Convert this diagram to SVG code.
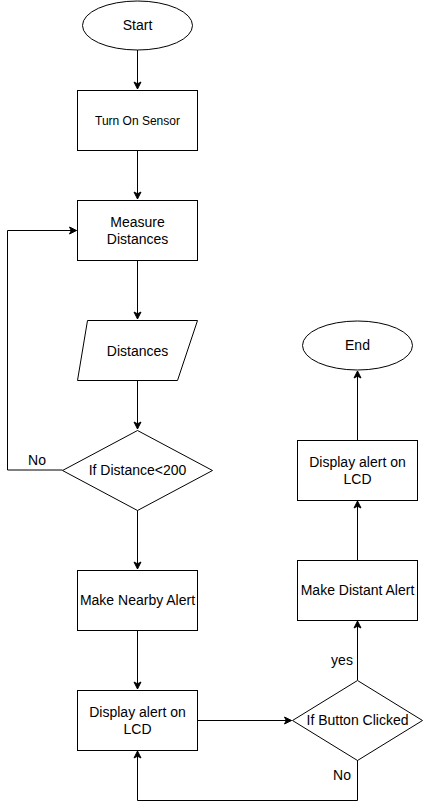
<svg xmlns="http://www.w3.org/2000/svg" width="423" height="809" viewBox="0 0 423 809">
<style>
.s{fill:#fff;stroke:#000;stroke-width:1}
.t{font-family:"Liberation Sans",Arial,sans-serif;font-size:14px;fill:#000;text-anchor:middle}
.sm{font-size:12px}
.c{fill:none;stroke:#000;stroke-width:1}
</style>
<defs>
<marker id="a" markerWidth="10" markerHeight="10" refX="8" refY="5" orient="auto" markerUnits="userSpaceOnUse">
<path d="M1,1.5 L8,5 L1,8.5 L2.8,5 Z" fill="#000" stroke="#000" stroke-width="1"/>
</marker>
</defs>
<rect width="423" height="809" fill="#fff"/>
<g id="connectors">
<path class="c" d="M137.5,50 V89" marker-end="url(#a)"/>
<path class="c" d="M137.5,150 V199" marker-end="url(#a)"/>
<path class="c" d="M137.5,260 V319" marker-end="url(#a)"/>
<path class="c" d="M137.5,380 V429" marker-end="url(#a)"/>
<path class="c" d="M62.5,470 H7.5 V230.5 H76.5" marker-end="url(#a)"/>
<path class="c" d="M137.5,510 V569" marker-end="url(#a)"/>
<path class="c" d="M137.5,630 V689" marker-end="url(#a)"/>
<path class="c" d="M197.5,720.5 H291.5" marker-end="url(#a)"/>
<path class="c" d="M357.5,760 V800.5 H137.5 V751" marker-end="url(#a)"/>
<path class="c" d="M357.5,680 V621" marker-end="url(#a)"/>
<path class="c" d="M357.5,560 V501" marker-end="url(#a)"/>
<path class="c" d="M357.5,440 V371" marker-end="url(#a)"/>
<text class="t" x="37" y="465">No</text>
<text class="t" x="342" y="665">yes</text>
<text class="t" x="342" y="780">No</text>
</g>
<g id="start">
<ellipse class="s" cx="137.5" cy="25.5" rx="55" ry="24.5"/>
<text class="t" x="137.5" y="30">Start</text>
</g>
<g id="turn-on-sensor">
<rect class="s" x="77.5" y="90.5" width="120" height="60"/>
<text class="t sm" x="137.5" y="124.5">Turn On Sensor</text>
</g>
<g id="measure-distances">
<rect class="s" x="77.5" y="200.5" width="120" height="60"/>
<text class="t" x="137.5" y="227">Measure</text>
<text class="t" x="137.5" y="244">Distances</text>
</g>
<g id="distances">
<polygon class="s" points="87.5,320.5 197.5,320.5 177.5,380.5 77.5,380.5"/>
<text class="t" x="137.5" y="355.5">Distances</text>
</g>
<g id="if-distance">
<polygon class="s" points="137.5,430.5 212.5,470.5 137.5,510.5 62.5,470.5"/>
<text class="t" x="137.5" y="475">If Distance&lt;200</text>
</g>
<g id="make-nearby-alert">
<rect class="s" x="77.5" y="570.5" width="120" height="60"/>
<text class="t" x="137.5" y="605">Make Nearby Alert</text>
</g>
<g id="display-left">
<rect class="s" x="77.5" y="690.5" width="120" height="60"/>
<text class="t" x="137.5" y="717">Display alert on</text>
<text class="t" x="137.5" y="734">LCD</text>
</g>
<g id="if-button">
<polygon class="s" points="357.5,680.5 422.5,720.5 357.5,760.5 292.5,720.5"/>
<text class="t" x="357.5" y="725">If Button Clicked</text>
</g>
<g id="make-distant-alert">
<rect class="s" x="297.5" y="560.5" width="120" height="60"/>
<text class="t" x="357.5" y="595">Make Distant Alert</text>
</g>
<g id="display-right">
<rect class="s" x="297.5" y="440.5" width="120" height="60"/>
<text class="t" x="357.5" y="467">Display alert on</text>
<text class="t" x="357.5" y="484">LCD</text>
</g>
<g id="end">
<ellipse class="s" cx="357.5" cy="345.5" rx="55" ry="24.5"/>
<text class="t" x="357.5" y="350">End</text>
</g>
</svg>
